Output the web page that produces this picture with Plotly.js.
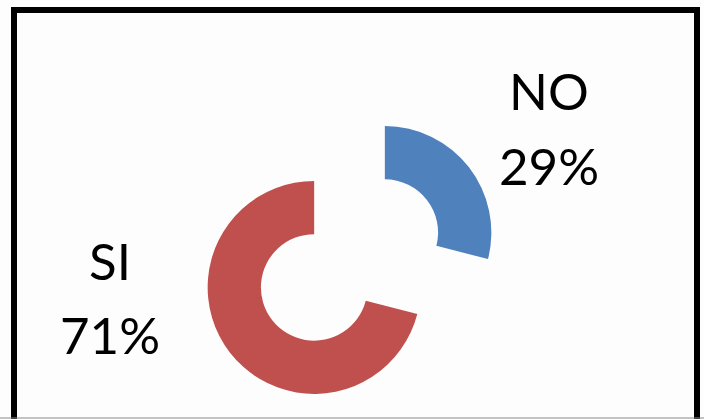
<!DOCTYPE html>
<html>
<head>
<meta charset="utf-8">
<script src="https://cdn.plot.ly/plotly-3.0.1.min.js"></script>
<style>
html,body{margin:0;padding:0;background:#fdfdfd;}
#chart{width:704px;height:419px;}
</style>
</head>
<body>
<div id="chart"></div>
<script>
const labels = ["NO", "SI"];
const values = [29, 71];
const colors = ["#4F81BD", "#C0504D"];

const W = 704, H = 419;
const total = values.reduce((a, b) => a + b, 0);
const pct = values.map(v => Math.round(v / total * 100) + "%");

// label anchor positions (pixels) for each category
const labelPos = [
  {x: 549, yName: 90, yPct: 165},
  {x: 110, yName: 260, yPct: 334}
];

function px2x(p){ return p / W; }
function px2y(p){ return 1 - p / H; }

const fontSpec = {family: "Lato, 'Open Sans', sans-serif", size: 51, color: "#000000"};
const annotations = [];
labels.forEach((lab, i) => {
  annotations.push({xref: "paper", yref: "paper", x: px2x(labelPos[i].x), y: px2y(labelPos[i].yName),
    xanchor: "center", yanchor: "middle", text: lab, showarrow: false, font: fontSpec});
  annotations.push({xref: "paper", yref: "paper", x: px2x(labelPos[i].x), y: px2y(labelPos[i].yPct),
    xanchor: "center", yanchor: "middle", text: pct[i], showarrow: false, font: fontSpec});
});

const pullFrac = 0.42;
const cx = 349.5, cy = 260, half = 106.5 * (1 + pullFrac);
const trace = {
  type: "pie",
  labels: labels,
  values: values,
  hole: 0.5,
  pull: [pullFrac, pullFrac],
  sort: false,
  direction: "clockwise",
  rotation: 0,
  textinfo: "none",
  hoverinfo: "label+percent",
  marker: {colors: colors, line: {width: 0}},
  domain: {x: [(cx - half) / W, (cx + half) / W], y: [1 - (cy + half) / H, 1 - (cy - half) / H]},
  showlegend: false
};

const layout = {
  width: W, height: H,
  margin: {l: 0, r: 0, t: 0, b: 0},
  paper_bgcolor: "#fdfdfd",
  plot_bgcolor: "#fdfdfd",
  showlegend: false,
  annotations: annotations,
  shapes: [
    {type: "rect", xref: "paper", yref: "paper", x0: px2x(14), x1: px2x(697), y0: px2y(10), y1: px2y(440),
     line: {color: "#000000", width: 6}, fillcolor: "rgba(0,0,0,0)"},
    {type: "line", xref: "paper", yref: "paper", x0: 0, x1: 1, y0: px2y(418), y1: px2y(418),
     line: {color: "#888888", width: 1}}
  ]
};

Plotly.newPlot("chart", [trace], layout, {displayModeBar: false, staticPlot: true});
</script>
</body>
</html>
